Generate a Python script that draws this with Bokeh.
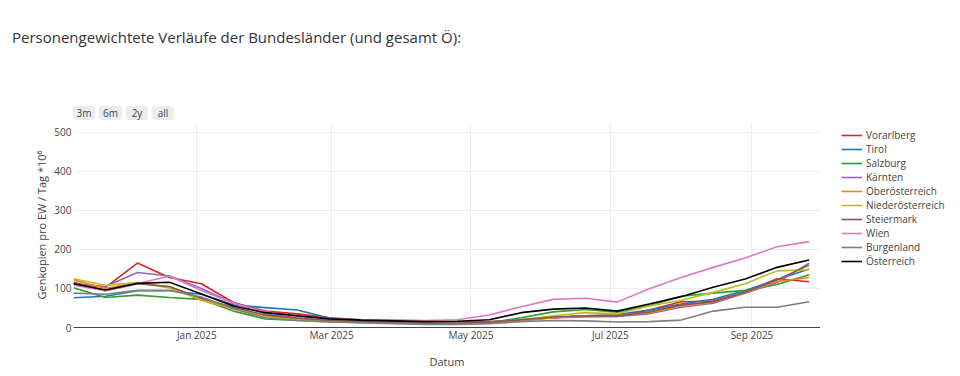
import pandas as pd
from bokeh.plotting import figure
from bokeh.layouts import column, row
from bokeh.models import (Range1d, Legend, LegendItem, Div, ColumnDataSource,
                          DatetimeTickFormatter, MonthsTicker, FixedTicker)
from bokeh.embed import file_html
from bokeh.resources import INLINE

# ---------------- data ----------------
dates = ["2024-11-08", "2024-11-22", "2024-12-06", "2024-12-20", "2025-01-03",
         "2025-01-17", "2025-01-31", "2025-02-14", "2025-02-28", "2025-03-14",
         "2025-03-28", "2025-04-11", "2025-04-25", "2025-05-09", "2025-05-23",
         "2025-06-06", "2025-06-20", "2025-07-04", "2025-07-18", "2025-08-01",
         "2025-08-15", "2025-08-29", "2025-09-12", "2025-09-26"]

vorarlberg = [112, 103, 165, 128, 112, 64, 42, 35, 25, 20, 17, 14, 14, 15, 20, 25, 30, 28, 45, 66, 68, 90, 125, 117]
tirol = [76, 80, 94, 94, 85, 58, 51, 45, 24, 18, 15, 13, 12, 12, 18, 25, 30, 33, 45, 60, 72, 95, 122, 150]
salzburg = [102, 77, 83, 77, 72, 42, 22, 18, 15, 12, 12, 10, 10, 12, 25, 40, 46, 39, 56, 80, 88, 95, 110, 135]
kaernten = [112, 105, 141, 132, 100, 62, 35, 25, 20, 17, 15, 12, 12, 14, 20, 25, 27, 28, 35, 52, 62, 88, 115, 165]
oberoesterreich = [122, 100, 115, 103, 70, 48, 30, 22, 18, 15, 12, 10, 10, 12, 18, 25, 30, 32, 38, 55, 65, 90, 118, 128]
niederoesterreich = [125, 108, 115, 101, 72, 48, 28, 20, 16, 14, 12, 10, 10, 12, 20, 30, 38, 35, 55, 70, 90, 112, 145, 148]
steiermark = [116, 94, 112, 105, 75, 52, 32, 24, 18, 15, 13, 11, 11, 13, 20, 27, 30, 30, 40, 58, 66, 90, 122, 160]
wien = [108, 94, 112, 132, 95, 62, 40, 28, 22, 20, 20, 18, 20, 32, 53, 72, 75, 65, 99, 128, 154, 178, 207, 220]
burgenland = [88, 85, 95, 95, 78, 48, 25, 18, 14, 12, 10, 8, 8, 10, 15, 18, 17, 14, 15, 19, 42, 52, 52, 66]
oesterreich = [112, 96, 113, 116, 86, 55, 38, 30, 22, 19, 17, 15, 16, 20, 38, 47, 50, 42, 60, 79, 103, 124, 154, 173]

series_names = ["Vorarlberg", "Tirol", "Salzburg", "Kärnten", "Oberösterreich",
                "Niederösterreich", "Steiermark", "Wien", "Burgenland", "Österreich"]
series_values = [vorarlberg, tirol, salzburg, kaernten, oberoesterreich,
                 niederoesterreich, steiermark, wien, burgenland, oesterreich]
series_colors = ["#d62728", "#1f77b4", "#2ca02c", "#9467bd", "#ff7f0e",
                 "#bcbd22", "#8c564b", "#e377c2", "#7f7f7f", "#000000"]

y_ticks = [0, 100, 200, 300, 400, 500]
buttons = ["3m", "6m", "2y", "all"]

title_text = "Personengewichtete Verläufe der Bundesländer (und gesamt Ö):"

FONT = "Open Sans"

# ---------------- header (title + range buttons) ----------------
btn_left = [73, 99, 126, 152]
btn_width = [22, 23, 22, 22]
btn_html = "".join(
    f'<div style="position:absolute;left:{l}px;top:106px;width:{w}px;height:14px;'
    f'background:#ececec;border-radius:3px;font-size:10px;line-height:14px;'
    f'text-align:center;color:#444;">{b}</div>'
    for b, l, w in zip(buttons, btn_left, btn_width))
header_html = (
    f'<div style="position:relative;width:960px;height:122px;font-family:\'{FONT}\',sans-serif;">'
    f'<div style="position:absolute;left:12px;top:26px;font-size:15px;line-height:22px;'
    f'color:#333;white-space:nowrap;">{title_text}</div>'
    f'{btn_html}</div>')
header = Div(text=header_html, width=960, height=122, margin=0)

# ---------------- main figure ----------------
x = pd.to_datetime(dates)

p = figure(width=820, height=254, x_axis_type="datetime",
           x_range=Range1d(pd.Timestamp("2024-11-08"), pd.Timestamp("2025-10-01")),
           y_range=Range1d(0, 525),
           output_backend="svg", toolbar_location=None, margin=0,
           min_border_left=73, min_border_right=0,
           min_border_top=0, min_border_bottom=49)
p.outline_line_color = None
p.background_fill_color = "white"
p.border_fill_color = "white"

for name, vals, col in zip(series_names, series_values, series_colors):
    p.line(x, vals, line_color=col, line_width=1.6)

# axes
p.xaxis.ticker = MonthsTicker(months=[0, 2, 4, 6, 8, 10])
p.xaxis.formatter = DatetimeTickFormatter(days="%b %Y", months="%b %Y", years="%b %Y")
p.xaxis.axis_line_color = "#444444"
p.xaxis.major_tick_line_color = None
p.xaxis.minor_tick_line_color = None
p.xaxis.major_tick_out = 0
p.xaxis.major_tick_in = 0
p.xaxis.minor_tick_out = 0
p.xaxis.major_label_standoff = 0
p.xaxis.major_label_text_font = FONT
p.xaxis.major_label_text_font_size = "10px"
p.xaxis.major_label_text_color = "#444444"
p.xaxis.axis_label = "Datum"
p.xaxis.axis_label_text_font = FONT
p.xaxis.axis_label_text_font_size = "11px"
p.xaxis.axis_label_text_font_style = "normal"
p.xaxis.axis_label_text_color = "#444444"
p.xaxis.axis_label_standoff = 9

p.yaxis.ticker = FixedTicker(ticks=y_ticks)
p.yaxis.axis_line_color = None
p.yaxis.major_tick_line_color = None
p.yaxis.minor_tick_line_color = None
p.yaxis.major_tick_out = 0
p.yaxis.major_tick_in = 0
p.yaxis.minor_tick_out = 0
p.yaxis.major_label_standoff = 2
p.yaxis.major_label_text_font = FONT
p.yaxis.major_label_text_font_size = "10px"
p.yaxis.major_label_text_color = "#444444"
p.yaxis.axis_label = "Genkopien pro EW / Tag *10⁶"
p.yaxis.axis_label_text_font = FONT
p.yaxis.axis_label_text_font_size = "11px"
p.yaxis.axis_label_text_font_style = "normal"
p.yaxis.axis_label_text_color = "#444444"
p.yaxis.axis_label_standoff = 2

p.xgrid.grid_line_color = "#eeeeee"
p.ygrid.grid_line_color = "#eeeeee"

# ---------------- legend figure (legend keys only) ----------------
lg = figure(width=140, height=254, output_backend="svg", toolbar_location=None,
            x_axis_location=None, y_axis_location=None, margin=0,
            x_range=Range1d(0, 1), y_range=Range1d(0, 1),
            min_border_left=0, min_border_right=0, min_border_top=0, min_border_bottom=0)
lg.outline_line_color = None
lg.grid.visible = False
lg.background_fill_color = "white"
lg.border_fill_color = "white"

items = []
for name, col in zip(series_names, series_colors):
    src = ColumnDataSource(data=dict(x=[float("nan")], y=[float("nan")]))
    r = lg.line("x", "y", source=src, line_color=col, line_width=1.6)
    items.append(LegendItem(label=name, renderers=[r]))

legend = Legend(items=items, location=(21, 59), padding=0, margin=0, spacing=0,
                glyph_width=21, glyph_height=14, label_height=14, label_standoff=4,
                label_text_font=FONT, label_text_font_size="10px",
                label_text_color="#444444", border_line_color=None,
                background_fill_alpha=0)
lg.add_layout(legend)

layout = column(header, row(p, lg, spacing=0, margin=0), spacing=0, margin=0)

open("out.html", "w").write(file_html(layout, INLINE))
